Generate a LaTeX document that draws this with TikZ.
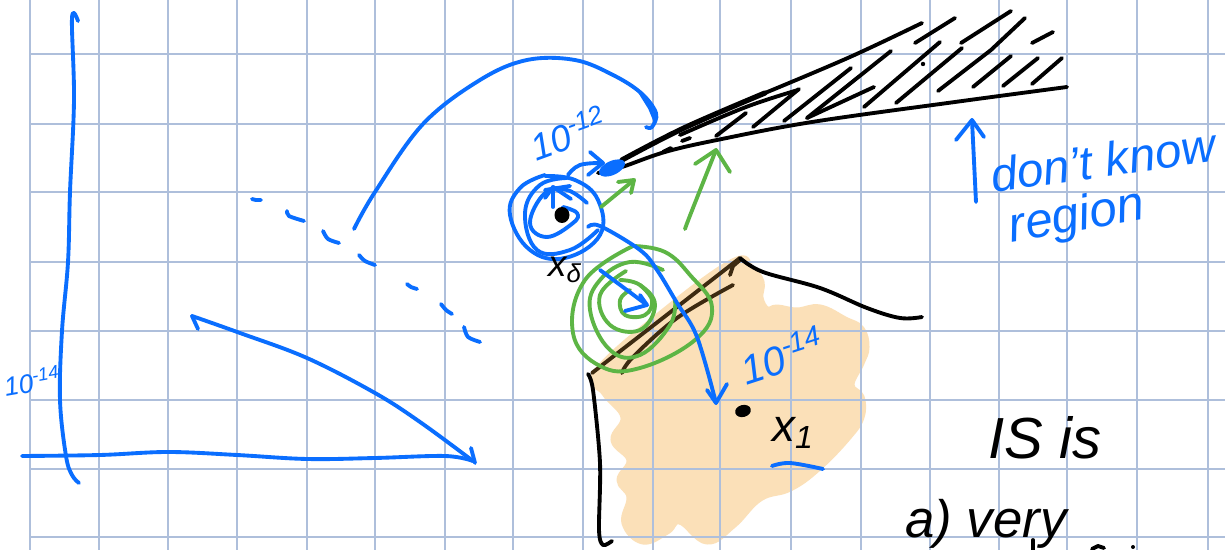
\documentclass[tikz,border=0pt]{standalone}
\usepackage{fontspec}
\setmainfont{Liberation Sans}
\definecolor{penblue}{HTML}{0A6EFF}
\definecolor{pengreen}{HTML}{5DB545}
\definecolor{penpeach}{HTML}{FBE0B8}
\definecolor{penbrown}{HTML}{3D2A10}
\definecolor{gridblue}{HTML}{AEBFDB}
\begin{document}
\begin{tikzpicture}[
        x=0.02cm,
        y=-0.02cm,
        line cap=round,
        line join=round,
        gridline/.style={gridblue, line width=0.75pt},
        bluepen/.style={penblue, line width=2.2pt},
        greenpen/.style={pengreen, line width=2.2pt},
        blackpen/.style={black, line width=2.2pt},
        brownpen/.style={penbrown, line width=2.2pt},
        bluetext/.style={penblue, inner sep=0pt, font=\itshape\fontsize{#1}{#1}\selectfont},
        blacktext/.style={black, inner sep=0pt, font=\itshape\fontsize{#1}{#1}\selectfont}
    ]
        \useasboundingbox (0,0) rectangle (1225,550);
        \clip (0,0) rectangle (1225,550);
        \fill[white] (0,0) rectangle (1225,550);

        \filldraw[penpeach, line width=4pt] plot[smooth cycle, tension=0.7] coordinates {
            (597,372) (660,315) (733,262) (751,269) (761,282) (760,298) (767,310)
            (777,308) (797,311) (820,308) (845,320) (861,329) (866,347) (861,363)
            (851,385) (861,397) (861,417) (848,437) (818,468) (790,488) (760,498)
            (733,525) (707,541) (680,521) (667,531) (643,541) (625,523) (630,497)
            (620,480) (630,460) (614,440) (624,417) (605,393)};

        \foreach \gx in {30,99,168,237,307,375,445,513,583,653,720,791,861,930,999,1067,1137,1208}{
            \draw[gridline] (\gx,0) -- (\gx,550);
        }
        \foreach \gy in {54,124,192,262,331,400,469,537}{
            \draw[gridline] (30,\gy) -- (1225,\gy);
        }

        \draw[bluepen] plot[smooth, tension=0.6] coordinates {(78,21) (72,18) (74,100) (70,192) (68,262) (62,331) (60,400) (66,456) (72,475) (79,483)};
        \draw[bluepen] plot[smooth, tension=0.6] coordinates {(22,456) (100,455) (168,452) (237,455) (307,459) (375,458) (445,456) (473,461)};
        \coordinate (peakA) at (192,316);
        \coordinate (peakB) at (473,461);
        \draw[bluepen] plot[smooth, tension=0.6] coordinates {(peakB) (420,422) (375,393) (307,358) (240,333) (peakA)};
        \draw[bluepen] (198,329) -- (peakA);
        \draw[bluepen] (471,448) -- (475,463);

        \foreach \da/\db/\dc in {{252,199}/{256,200}/{261,200},{287,211}/{289,216}/{304,221},{323,231}/{328,239}/{339,243},{359,255}/{365,261}/{375,265},{407,284}/{411,287}/{417,289},{441,304}/{446,310}/{452,314},{464,327}/{468,337}/{480,342}}{
            \draw[bluepen] plot[smooth] coordinates {(\da) (\db) (\dc)};
        }

        \draw[bluepen] plot[smooth, tension=0.6] coordinates {(354,229) (375,192) (423,124) (480,80) (527,60) (575,60) (613,75) (641,93) (656,113) (652,127) (646,127)};
        \draw[bluepen] (640,92) -- (650,108) -- (655,120);

        \foreach \ha/\hb in {{753,127}/{799,89},{784,121}/{851,68},{807,118}/{891,51},{807,118}/{874,87},{864,107}/{940,42},{896,103}/{962,48},{973,87}/{1011,56},{1003,86}/{1038,58},{1032,84}/{1062,58},{1032,43}/{1053,32},{961,43}/{1011,11},{915,43}/{955,18},{716,136}/{746,113}}{
            \draw[blackpen] (\ha) -- (\hb);
        }
        \draw[blackpen] (938,91) -- (991,50) -- (1025,18);
        \draw[blackpen] (663,152) -- (671,148) (682,141) -- (690,138);
        \fill (923,64) circle (2.2);
        \draw[black, line width=3pt] plot[smooth, tension=0.6] coordinates {(622,160) (684,128) (765,93)};
        \draw[blackpen] plot[smooth, tension=0.6] coordinates {(765,93) (850,57) (922,23)};
        \draw[blackpen] plot[smooth, tension=0.6] coordinates {(680,135) (746,107) (798,90)};
        \draw[blackpen] plot[smooth, tension=0.6] coordinates {(598,173) (622,167) (665,152) (717,140) (812,122) (955,102) (1067,87)};

        \fill[penblue, rotate around={25:(612,168)}] (612,168) ellipse (14 and 7);
        \draw[bluepen] plot[smooth, tension=0.7] coordinates {(568,175) (580,165) (603,163)};
        \draw[bluepen] (590,152) -- (603,163) -- (588,175);
        \node[bluetext=21, rotate=20] (tenTwelve) at (568,133) {10\textsuperscript{-12}};

        \draw[bluepen] plot[smooth, tension=0.7] coordinates {(545,175) (520,188) (510,215) (530,250) (565,258) (600,235) (598,200) (575,180) (545,176)};
        \draw[bluepen] plot[smooth, tension=0.7] coordinates {(567,178) (540,185) (525,213) (537,250) (570,250) (598,230)};
        \draw[bluepen] plot[smooth, tension=0.7] coordinates {(587,203) (567,190) (545,193) (530,223) (547,237) (573,223) (577,213) (563,207)};
        \draw[bluepen] (553,207) -- (553,187);
        \draw[bluepen] (545,198) -- (553,187) -- (571,199);
        \draw[bluepen] (545,190) -- (570,186);
        \fill[black] (562,215) ellipse (7.5 and 8);
        \node[blacktext=21] (startLabel) at (565,270) {x\textsubscript{δ}};

        \draw[greenpen] (601,207) -- (634,180);
        \draw[greenpen] (618,182) -- (634,180) -- (631,193);
        \draw[greenpen] plot[smooth, tension=0.6] coordinates {(685,229) (691,213) (716,150)};
        \draw[greenpen] (695,164) -- (716,150) -- (730,172);

        \draw[brownpen] plot[smooth, tension=0.5] coordinates {(592,373) (677,307) (740,258)};
        \draw[brownpen] plot[smooth, tension=0.6] coordinates {(622,373) (633,357) (677,318) (733,285)};
        \draw[brownpen] (730,275) -- (733,266) -- (740,260);
        \draw[blackpen] plot[smooth, tension=0.6] coordinates {(740,258) (763,272) (820,288) (867,308) (900,318) (922,317)};
        \draw[blackpen] plot[smooth, tension=0.5] coordinates {(588,374) (593,390) (600,463) (599,530) (603,545) (612,541)};

        \draw[greenpen] plot[smooth, tension=0.7] coordinates {(633,246) (585,280) (573,333) (600,366) (640,368) (695,340) (712,307) (690,275) (665,252) (633,246)};
        \draw[greenpen] plot[smooth, tension=0.7] coordinates {(663,270) (630,262) (600,280) (590,310) (610,350) (640,355) (670,325) (675,300)};
        \draw[greenpen] plot[smooth, tension=0.7] coordinates {(626,271) (600,295) (610,325) (640,330) (655,305) (640,285) (620,280)};
        \draw[greenpen] plot[smooth, tension=0.7] coordinates {(630,290) (620,300) (625,315) (645,315) (652,300) (640,285)};

        \draw[bluepen] plot[smooth, tension=0.6] coordinates {(588,227) (600,226) (640,250) (657,270) (677,303) (697,337) (716,403)};
        \draw[bluepen] (707,390) -- (716,403) -- (727,384);
        \draw[bluepen] (600,270) -- (647,305);
        \draw[bluepen] (640,295) -- (647,305) -- (625,311);

        \node[bluetext=23, rotate=18] (tenFourteen) at (782,355) {10\textsuperscript{-14}};
        \fill[black, rotate around={15:(743,411)}] (743,411) ellipse (8 and 6);
        \node[blacktext=26] (endLabel) at (793,433) {x\textsubscript{1}};
        \draw[bluepen] plot[smooth, tension=0.6] coordinates {(772,466) (790,463) (823,469)};

        \node[bluetext=15, rotate=10] (axisLabel) at (32,381) {10\textsuperscript{-14}};

        \draw[bluepen] (976,202) -- (972,120);
        \draw[bluepen] (956,140) -- (972,120) -- (984,137);
        \node[bluetext=27, rotate=8] (knowLabel) at (1103,160) {don't know};
        \node[bluetext=28, rotate=10] (regionLabel) at (1077,218) {region};

        \node[blacktext=33] (isLabel) at (1045,438) {IS is};
        \node[blacktext=30, anchor=base west] (veryLabel) at (905,538) {a) very};

        \draw[blackpen] (1033,540) -- (1033,552);
        \draw[blackpen] (1092,549) -- (1098,546) -- (1104,548);
        \fill (1133,547) circle (2);
    \end{tikzpicture}
\end{document}
